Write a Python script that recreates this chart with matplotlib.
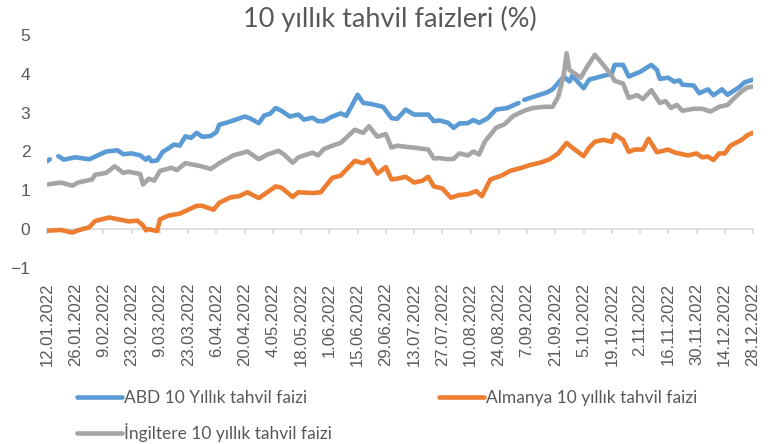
import matplotlib
matplotlib.use("Agg")
import matplotlib.pyplot as plt
import numpy as np

# 10 yillik tahvil faizleri, 2022 (is gunu sirasi: 0 = 12.01.2022)
abd_gun = [0, 1, 2, 4, 6, 10, 15, 18, 21, 25, 27, 30, 33, 35, 36, 37, 39, 41, 43, 45,
           47, 49, 51, 53, 55, 58, 60, 61, 64, 66, 68, 70, 72, 75, 77, 79, 81, 83, 86, 89,
           91, 94, 96, 98, 101, 104, 106, 110, 112, 115, 119, 122, 124, 127, 130, 135, 137,
           139, 142, 144, 146, 149, 151, 153, 156, 159, 163, 167, 168, 169, 174, 177, 179,
           183, 185, 186, 190, 192, 196, 200, 201, 204, 206, 210, 214, 216, 217, 220, 222,
           224, 225, 229, 231, 234, 236, 239, 241, 245, 247, 250]
abd_faiz = [1.75, 1.80, np.nan, 1.88, 1.79, 1.85, 1.80, 1.90, 2.00, 2.03, 1.93, 1.95, 1.90,
            1.79, 1.85, 1.75, 1.77, 1.99, 2.08, 2.18, 2.15, 2.39, 2.35, 2.48, 2.38, 2.40,
            2.50, 2.69, 2.75, 2.80, 2.85, 2.90, 2.85, 2.73, 2.93, 2.97, 3.12, 3.05, 2.90,
            2.95, 2.82, 2.87, 2.78, 2.78, 2.90, 2.98, 2.92, 3.46, 3.25, 3.22, 3.15, 2.86,
            2.84, 3.08, 2.95, 2.95, 2.78, 2.80, 2.74, 2.61, 2.72, 2.73, 2.81, 2.74, 2.85,
            3.08, 3.12, 3.25, np.nan, 3.33, 3.45, 3.52, 3.60, 3.93, 3.80, 3.95, 3.63, 3.85,
            3.93, 4.00, 4.23, 4.23, 3.93, 4.05, 4.23, 4.10, 3.87, 3.90, 3.80, 3.83, 3.72,
            3.70, 3.50, 3.60, 3.45, 3.60, 3.46, 3.65, 3.78, 3.85]

almanya_gun = [0, 5, 9, 11, 15, 17, 22, 24, 27, 29, 32, 34, 35, 36, 39, 40, 43, 47, 50, 53,
               55, 59, 61, 65, 68, 71, 75, 78, 81, 83, 87, 89, 94, 97, 98, 101, 104, 109,
               112, 114, 117, 120, 122, 124, 127, 130, 133, 135, 137, 140, 143, 146, 149,
               152, 154, 157, 161, 164, 168, 171, 175, 178, 181, 184, 186, 190, 192, 194,
               197, 200, 201, 204, 206, 208, 211, 213, 216, 220, 222, 225, 227, 230, 232,
               234, 236, 238, 240, 242, 246, 248, 250]
almanya_faiz = [-0.04, -0.02, -0.09, -0.03, 0.05, 0.21, 0.30, 0.27, 0.23, 0.20, 0.22, 0.10,
                -0.03, 0.00, -0.05, 0.25, 0.35, 0.40, 0.50, 0.60, 0.60, 0.50, 0.68, 0.82,
                0.85, 0.95, 0.80, 0.95, 1.10, 1.07, 0.83, 0.95, 0.93, 0.95, 1.05, 1.32, 1.38,
                1.76, 1.70, 1.79, 1.43, 1.60, 1.28, 1.30, 1.35, 1.20, 1.25, 1.35, 1.10, 1.05,
                0.81, 0.88, 0.90, 0.98, 0.85, 1.28, 1.38, 1.50, 1.58, 1.65, 1.72, 1.80, 1.95,
                2.22, 2.10, 1.88, 2.10, 2.25, 2.30, 2.25, 2.44, 2.30, 1.99, 2.05, 2.05, 2.33,
                1.98, 2.05, 1.98, 1.93, 1.90, 1.95, 1.85, 1.87, 1.78, 1.95, 1.95, 2.15, 2.30,
                2.42, 2.48]

ingiltere_gun = [0, 5, 9, 11, 16, 17, 21, 24, 27, 29, 33, 34, 36, 38, 40, 44, 46, 49, 54, 58,
                 61, 66, 71, 75, 78, 82, 84, 87, 89, 94, 96, 98, 101, 104, 109, 112, 114, 117,
                 120, 122, 124, 127, 130, 135, 137, 139, 142, 144, 146, 149, 151, 153, 155,
                 159, 162, 165, 169, 172, 176, 179, 181, 183, 184, 185, 189, 191, 194, 197,
                 200, 201, 204, 206, 209, 211, 214, 217, 219, 221, 223, 225, 229, 232, 235,
                 238, 241, 243, 246, 248, 250]
ingiltere_faiz = [1.15, 1.20, 1.12, 1.20, 1.28, 1.40, 1.45, 1.62, 1.45, 1.48, 1.42, 1.15,
                  1.30, 1.25, 1.50, 1.58, 1.52, 1.70, 1.63, 1.55, 1.70, 1.90, 2.00, 1.80,
                  1.92, 2.02, 1.92, 1.71, 1.85, 1.97, 1.90, 2.06, 2.15, 2.22, 2.56, 2.48,
                  2.65, 2.38, 2.45, 2.10, 2.15, 2.12, 2.10, 2.05, 1.82, 1.83, 1.80, 1.81,
                  1.95, 1.90, 2.00, 1.92, 2.25, 2.61, 2.70, 2.91, 3.05, 3.12, 3.15, 3.15,
                  3.40, 3.97, 4.53, 4.10, 3.90, 4.15, 4.49, 4.23, 3.95, 3.82, 3.75, 3.38,
                  3.45, 3.35, 3.58, 3.25, 3.30, 3.12, 3.20, 3.05, 3.10, 3.10, 3.03, 3.15,
                  3.20, 3.35, 3.55, 3.65, 3.67]

tarih_etiketleri = ["12.01.2022", "26.01.2022", "9.02.2022", "23.02.2022", "9.03.2022",
                    "23.03.2022", "6.04.2022", "20.04.2022", "4.05.2022", "18.05.2022",
                    "1.06.2022", "15.06.2022", "29.06.2022", "13.07.2022", "27.07.2022",
                    "10.08.2022", "24.08.2022", "7.09.2022", "21.09.2022", "5.10.2022",
                    "19.10.2022", "2.11.2022", "16.11.2022", "30.11.2022", "14.12.2022",
                    "28.12.2022"]

yazi_rengi = "#595959"
eksen_rengi = "#D9D9D9"

fig = plt.figure(figsize=(7.75, 4.44), dpi=100)
ax = fig.add_axes([0.0606, 0.3964, 0.911, 0.5248])

lw = 3.3
l1, = ax.plot(abd_gun, abd_faiz, color="#5B9BD5", lw=lw, solid_joinstyle="round",
              solid_capstyle="round", label="ABD 10 Yıllık tahvil faizi")
l2, = ax.plot(almanya_gun, almanya_faiz, color="#ED7D31", lw=lw, solid_joinstyle="round",
              solid_capstyle="round", label="Almanya 10 yıllık tahvil faizi")
l3, = ax.plot(ingiltere_gun, ingiltere_faiz, color="#A5A5A5", lw=lw, solid_joinstyle="round",
              solid_capstyle="round", label="İngiltere 10 yıllık tahvil faizi")

ax.set_xlim(0, 250)
ax.set_ylim(-1, 5)
ax.set_yticks(range(-1, 6))

# x ekseni y=0 cizgisinde, etiketler grafigin altinda
for s in ["top", "right", "left"]:
    ax.spines[s].set_visible(False)
ax.spines["bottom"].set_position(("data", 0))
ax.spines["bottom"].set_color(eksen_rengi)
ax.spines["bottom"].set_linewidth(1.2)
ax.spines["bottom"].set_zorder(0)

ax.set_xticks(range(0, 251, 10))
ax.set_xticklabels(tarih_etiketleri, rotation=90, family="Liberation Sans",
                   fontsize=12, color=yazi_rengi)
ax.tick_params(axis="x", direction="out", length=3.5, width=1.2, color=eksen_rengi, pad=35)
ax.tick_params(axis="y", length=0, pad=12, labelsize=12.5, labelcolor=yazi_rengi)
for t in ax.get_yticklabels():
    t.set_family("Liberation Sans")

fig.text(0.503, 0.958, "10 yıllık tahvil faizleri (%)", ha="center", va="center",
         fontsize=19.5, family="Lato", color=yazi_rengi)

fig.legend(handles=[l1, l3, l2], loc="upper left", bbox_to_anchor=(0.099, 0.122),
           ncol=2, frameon=False, prop={"family": "Lato", "size": 12.5},
           handlelength=2.6, handletextpad=0.1, columnspacing=6.2, labelspacing=1.0,
           borderpad=0, borderaxespad=0, labelcolor=yazi_rengi)

fig.savefig("out.png", dpi=100)
